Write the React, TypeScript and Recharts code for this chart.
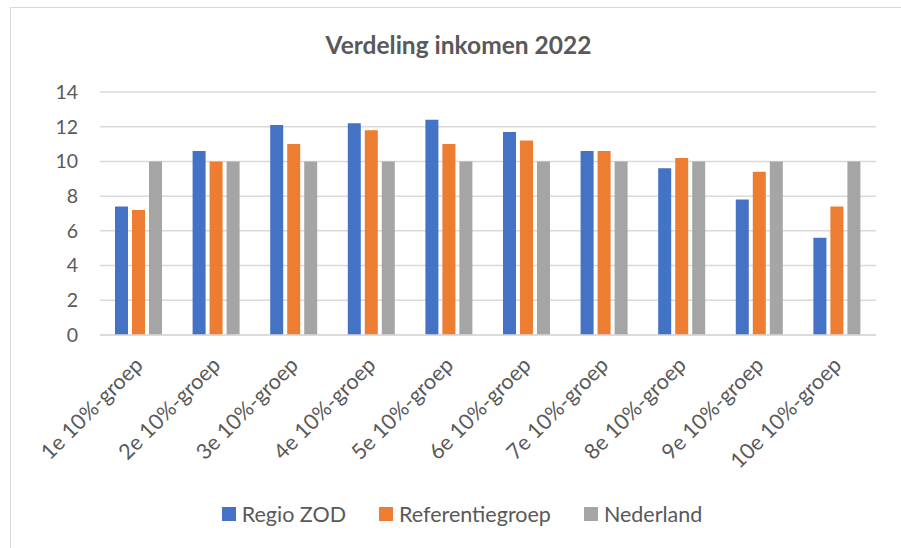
import React from 'react';
import { BarChart, Bar, XAxis, YAxis, CartesianGrid, Legend } from 'recharts';

const categories = [
  '1e 10%-groep',
  '2e 10%-groep',
  '3e 10%-groep',
  '4e 10%-groep',
  '5e 10%-groep',
  '6e 10%-groep',
  '7e 10%-groep',
  '8e 10%-groep',
  '9e 10%-groep',
  '10e 10%-groep',
];
const regioZod = [7.4, 10.6, 12.1, 12.2, 12.4, 11.7, 10.6, 9.6, 7.8, 5.6];
const referentiegroep = [7.2, 10.0, 11.0, 11.8, 11.0, 11.2, 10.6, 10.2, 9.4, 7.4];
const nederland = [10, 10, 10, 10, 10, 10, 10, 10, 10, 10];
const yTicks = [0, 2, 4, 6, 8, 10, 12, 14];

const data = categories.map((name, i) => ({
  name,
  regio: regioZod[i],
  referentie: referentiegroep[i],
  nl: nederland[i],
}));

const FONT = 'Lato, "Open Sans", sans-serif';
const TEXT = '#595959';

const XTick = (props: any) => {
  const { x, y, payload } = props;
  return (
    <g transform={`translate(${x - 3},${y + 15})`}>
      <text
        x={0}
        y={0}
        dy={12}
        textAnchor="end"
        transform="rotate(-45)"
        fill={TEXT}
        fontSize={21.5}
        fontFamily={FONT}
      >
        {payload.value}
      </text>
    </g>
  );
};

const LegendContent = () => {
  const items = [
    { label: 'Regio ZOD', color: '#4472C4' },
    { label: 'Referentiegroep', color: '#ED7D31' },
    { label: 'Nederland', color: '#A5A5A5' },
  ];
  return (
    <div style={{ display: 'flex', justifyContent: 'center', gap: 33, fontFamily: FONT, fontSize: 21.5, color: TEXT, marginLeft: 48 }}>
      {items.map((it) => (
        <div key={it.label} style={{ display: 'flex', alignItems: 'center' }}>
          <span style={{ width: 14, height: 14, background: it.color, display: 'inline-block', marginRight: 6 }} />
          {it.label}
        </div>
      ))}
    </div>
  );
};

export default function App() {
  return (
    <div style={{ position: 'absolute', left: 0, top: 0, width: 901, height: 548, background: '#fff', overflow: 'hidden' }}>
      <div style={{ position: 'absolute', left: 10, top: 7, width: 900, height: 560, border: '1px solid #D9D9D9' }} />
      <div
        style={{
          position: 'absolute',
          left: 8,
          width: 901,
          top: 30,
          textAlign: 'center',
          fontFamily: FONT,
          fontWeight: 700,
          fontSize: 24.5,
          color: TEXT,
        }}
      >
        Verdeling inkomen 2022
      </div>
      <div style={{ position: 'absolute', left: 0, top: 0 }}>
        <BarChart
          width={901}
          height={548}
          data={data}
          margin={{ top: 92, right: 25, left: 0, bottom: 20 }}
          barSize={13}
          barGap={4}
        >
          <CartesianGrid vertical={false} stroke="#D9D9D9" strokeWidth={1.5} />
          <XAxis
            dataKey="name"
            interval={0}
            height={155}
            tick={<XTick />}
            tickLine={false}
            axisLine={{ stroke: '#D9D9D9', strokeWidth: 1.5 }}
          />
          <YAxis
            width={100}
            domain={[0, 14]}
            ticks={yTicks}
            interval={0}
            tickLine={false}
            axisLine={false}
            tickMargin={16}
            tick={{ fill: TEXT, fontSize: 19.5, fontFamily: FONT }}
          />
          <Legend verticalAlign="bottom" height={38} content={<LegendContent />} wrapperStyle={{ top: 501 }} />
          <Bar dataKey="regio" name="Regio ZOD" fill="#4472C4" isAnimationActive={false} />
          <Bar dataKey="referentie" name="Referentiegroep" fill="#ED7D31" isAnimationActive={false} />
          <Bar dataKey="nl" name="Nederland" fill="#A5A5A5" isAnimationActive={false} />
        </BarChart>
      </div>
    </div>
  );
}
